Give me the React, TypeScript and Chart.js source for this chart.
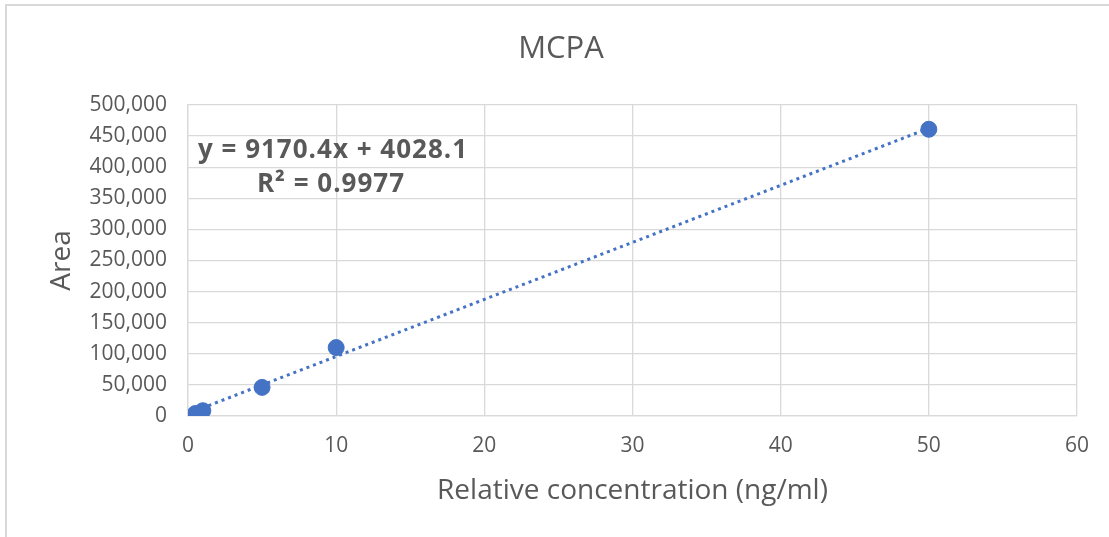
import React, { useEffect, useRef } from "react";
import { Chart, registerables } from "chart.js";

Chart.register(...registerables);

const concentrations = [0.5, 1, 5, 10, 50];
const areas = [4000, 8500, 46000, 110000, 461000];
const trendSlope = 9170.4;
const trendIntercept = 4028.1;
const equationLines = ["y = 9170.4x + 4028.1", "R² = 0.9977"];
const chartTitle = "MCPA";
const xTitle = "Relative concentration (ng/ml)";
const yTitle = "Area";

const FONT = "'Open Sans', Lato, sans-serif";
const TEXT = "#595959";
const GRID = "#d9d9d9";
const BLUE = "#4472C4";

const textPlugin = {
  id: "textOverlay",
  afterDraw(chart: any) {
    const { ctx } = chart;
    ctx.save();
    ctx.fillStyle = TEXT;
    ctx.textAlign = "center";
    ctx.textBaseline = "middle";
    ctx.font = `normal 31px ${FONT}`;
    ctx.fillText(chartTitle, 561, 49);
    ctx.font = `bold 26px ${FONT}`;
    try {
      ctx.letterSpacing = "1px";
    } catch (e) {}
    ctx.fillText(equationLines[0], 333, 151);
    ctx.fillText(equationLines[1], 331, 185);
    ctx.restore();
  },
};

export default function App() {
  const ref = useRef<HTMLCanvasElement>(null);

  useEffect(() => {
    if (!ref.current) return;
    const xMin = Math.min(...concentrations);
    const xMax = Math.max(...concentrations);
    const trend = [
      { x: xMin, y: trendSlope * xMin + trendIntercept },
      { x: xMax, y: trendSlope * xMax + trendIntercept },
    ];
    const chart = new Chart(ref.current, {
      type: "scatter",
      data: {
        datasets: [
          {
            label: "Area",
            data: concentrations.map((x, i) => ({ x, y: areas[i] })),
            backgroundColor: BLUE,
            borderColor: BLUE,
            pointRadius: 8,
            pointHoverRadius: 8,
          },
          {
            type: "line",
            label: "Trend",
            data: trend,
            borderColor: BLUE,
            borderWidth: 3,
            borderDash: [3, 4],
            pointRadius: 0,
            fill: false,
          } as any,
        ],
      },
      options: {
        animation: false,
        responsive: false,
        maintainAspectRatio: false,
        layout: { padding: { top: 105, right: 32, bottom: 0, left: 0 } },
        plugins: {
          legend: { display: false },
          tooltip: { enabled: false },
          title: { display: false },
        },
        scales: {
          x: {
            type: "linear",
            min: 0,
            max: 60,
            ticks: {
              stepSize: 10,
              color: TEXT,
              padding: 17,
              font: { family: FONT, size: 21 },
            },
            grid: { color: GRID, lineWidth: 1.3, drawTicks: false },
            border: { color: GRID, width: 1.3 },
            title: {
              display: true,
              text: xTitle,
              color: TEXT,
              font: { family: FONT, size: 28 },
              padding: { top: 0, bottom: 29 },
            },
            afterFit(scale: any) {
              scale.height = 121;
            },
          },
          y: {
            type: "linear",
            min: 0,
            max: 500000,
            ticks: {
              stepSize: 50000,
              color: TEXT,
              padding: 21,
              font: { family: FONT, size: 21 },
              callback: (v: any) => Number(v).toLocaleString("en-US"),
            },
            grid: { color: GRID, lineWidth: 1.3, drawTicks: false },
            border: { color: GRID, width: 1.3 },
            title: {
              display: true,
              text: yTitle,
              color: TEXT,
              font: { family: FONT, size: 28 },
              padding: { top: 45, bottom: 0 },
            },
            afterFit(scale: any) {
              scale.width = 188;
            },
          },
        },
      },
      plugins: [textPlugin],
    });
    return () => chart.destroy();
  }, []);

  return (
    <div
      style={{
        position: "fixed",
        left: 0,
        top: 0,
        width: 1109,
        height: 537,
        background: "#fff",
        overflow: "hidden",
      }}
    >
      <div
        style={{
          position: "absolute",
          left: 5,
          top: 4,
          width: 1110,
          height: 540,
          borderTop: "2px solid #d9d9d9",
          borderLeft: "2px solid #d9d9d9",
        }}
      />
      <canvas
        ref={ref}
        width={1109}
        height={537}
        style={{ position: "absolute", left: 0, top: 0, width: 1109, height: 537 }}
      />
    </div>
  );
}
